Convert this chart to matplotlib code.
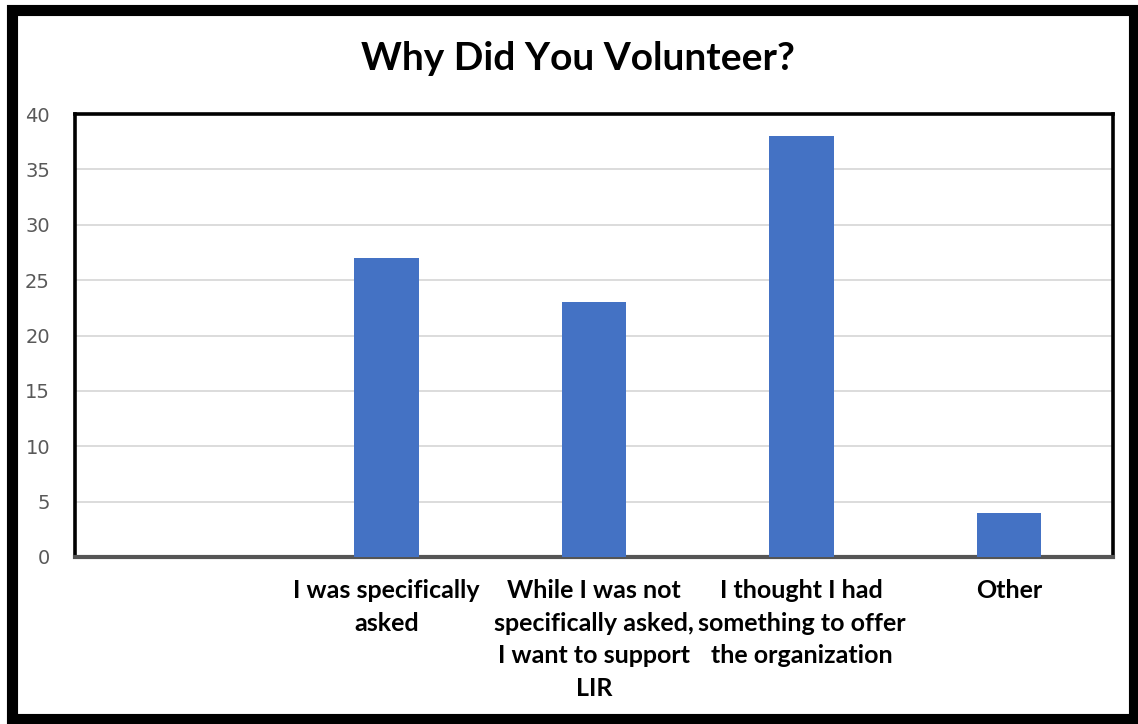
import matplotlib.pyplot as plt
from matplotlib.patches import Rectangle

# respostas da pesquisa
categorias = ['', 'I was specifically\nasked',
              'While I was not\nspecifically asked,\nI want to support\nLIR',
              'I thought I had\nsomething to offer\nthe organization', 'Other']
respostas = [0, 27, 23, 38, 4]
marcas_y = [0, 5, 10, 15, 20, 25, 30, 35, 40]

fig = plt.figure(figsize=(11.38, 7.24), dpi=100)
ax = fig.add_axes([75 / 1138, 167 / 724, 1038 / 1138, 443 / 724])

pos = list(range(len(categorias)))
ax.bar(pos, respostas, width=0.31, color='#4472C4', zorder=3)

ax.set_xlim(-0.5, len(categorias) - 0.5)
ax.set_ylim(0, 40)
ax.set_yticks(marcas_y)
ax.set_yticklabels([str(v) for v in marcas_y], fontsize=14, color='#595959')
ax.set_xticks(pos)
ax.set_xticklabels(categorias, fontsize=18, fontweight='bold', family='Lato',
                   linespacing=1.5, va='top')
ax.tick_params(axis='y', length=0, pad=18)
ax.tick_params(axis='x', length=0, pad=16)
ax.grid(axis='y', color='#d9d9d9', linewidth=1.3, zorder=0)

for lado in ['left', 'top', 'right']:
    ax.spines[lado].set_linewidth(2.6)
    ax.spines[lado].set_color('black')
ax.spines['bottom'].set_linewidth(3)
ax.spines['bottom'].set_color('#555555')

fig.text(578 / 1138, 1 - 58 / 724, 'Why Did You Volunteer?', ha='center', va='center',
         fontsize=28, fontweight='bold', family='Lato')

# moldura externa
fig.add_artist(Rectangle((12 / 1138, 5 / 724), 1122 / 1138, 709 / 724,
                         transform=fig.transFigure, fill=False,
                         edgecolor='black', linewidth=8))

fig.savefig('out.png', dpi=100)
